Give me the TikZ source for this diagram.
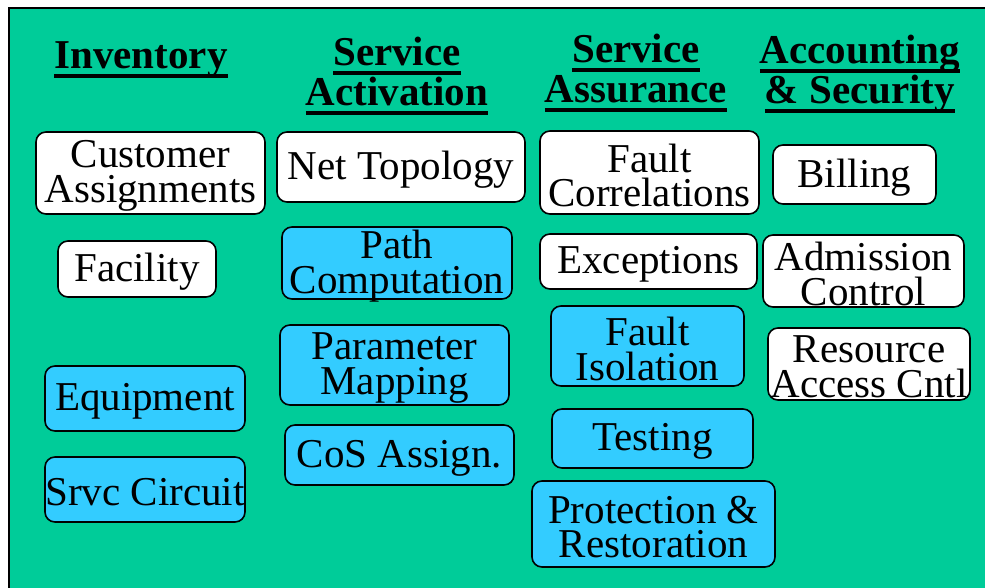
\documentclass[tikz,border=0pt]{standalone}
\usepackage{fontspec}
\setmainfont{Liberation Serif}
\definecolor{panelgreen}{HTML}{00CC99}
\definecolor{skyfill}{HTML}{33CCFF}
% bold heading line with a heavy underline
\newcommand\headul[1]{\setbox0\hbox{#1}\rlap{\rule[-9pt]{\wd0}{4pt}}\box0}
\begin{document}
\begin{tikzpicture}[x=1pt,y=-1pt,
  fn/.style={draw=black,line width=1.6pt,rounded corners=10pt,inner sep=0pt},
  plain/.style={fn,fill=white},
  tinted/.style={fn,fill=skyfill},
  % box caption, centred on the box and set a little low
  boxcap/.style={inner sep=0pt,align=center,yshift=-3pt,
    font=\fontsize{41}{34.5}\selectfont},
  head/.style={inner sep=0pt,align=center,anchor=base,
    font=\fontsize{41}{40}\selectfont\bfseries}]
\useasboundingbox (0,0) rectangle (985,588);
\fill[white] (0,0) rectangle (985,588);
\fill[panelgreen] (9,8) rectangle (990,595);
\draw[line width=2pt] (9,595) -- (9,8) -- (990,8);

% column headings (anchored at the baseline of the last line)
\node[head] (hinv) at (141,69) {\headul{Inventory}};
\node[head] (hact) at (397,106) {\headul{Service}\\\headul{Activation}};
\node[head] (hass) at (636,103) {\headul{Service}\\\headul{Assurance}};
\node[head] (hacc) at (860,104) {\headul{Accounting}\\\headul{\& Security}};

% Inventory
\node[plain,minimum width=229,minimum height=82,label={[boxcap]center:Customer\\Assignments}] (cust) at (150.5,173) {};
\node[plain,minimum width=158,minimum height=56,label={[boxcap]center:Facility}] (fac) at (137,269) {};
\node[tinted,minimum width=200,minimum height=65,label={[boxcap]center:Equipment}] (equip) at (145,398.5) {};
\node[tinted,minimum width=200,minimum height=65,label={[boxcap]center:Srvc Circuit}] (srvc) at (145,489.5) {};

% Service Activation
\node[plain,minimum width=248,minimum height=70,label={[boxcap]center:Net Topology}] (topo) at (401,167) {};
\node[tinted,minimum width=230,minimum height=72,label={[boxcap]center:Path\\Computation}] (path) at (397,263) {};
\node[tinted,minimum width=229,minimum height=80,label={[boxcap]center:Parameter\\Mapping}] (param) at (394.5,365) {};
\node[tinted,minimum width=229,minimum height=60,label={[boxcap]center:CoS Assign.}] (cos) at (399.5,455) {};

% Service Assurance
\node[plain,minimum width=219,minimum height=83,label={[boxcap]center:Fault\\Correlations}] (fcorr) at (649.5,172.5) {};
\node[plain,minimum width=217,minimum height=55,label={[boxcap]center:Exceptions}] (exc) at (648.5,261.5) {};
\node[tinted,minimum width=193,minimum height=80,label={[boxcap]center:Fault\\Isolation}] (fiso) at (647.5,346) {};
\node[tinted,minimum width=201,minimum height=59,label={[boxcap]center:Testing}] (test) at (652.5,438.5) {};
\node[tinted,minimum width=243,minimum height=86,label={[boxcap]center:Protection \&\\Restoration}] (prot) at (653.5,524) {};

% Accounting & Security
\node[plain,minimum width=163,minimum height=59,label={[boxcap]center:Billing}] (bill) at (854.5,174.5) {};
\node[plain,minimum width=201,minimum height=72,label={[boxcap]center:Admission\\Control}] (adm) at (863.5,271) {};
\node[plain,minimum width=202,minimum height=72,label={[boxcap]center:Resource\\Access Cntl}] (res) at (869,364) {};
\end{tikzpicture}
\end{document}
